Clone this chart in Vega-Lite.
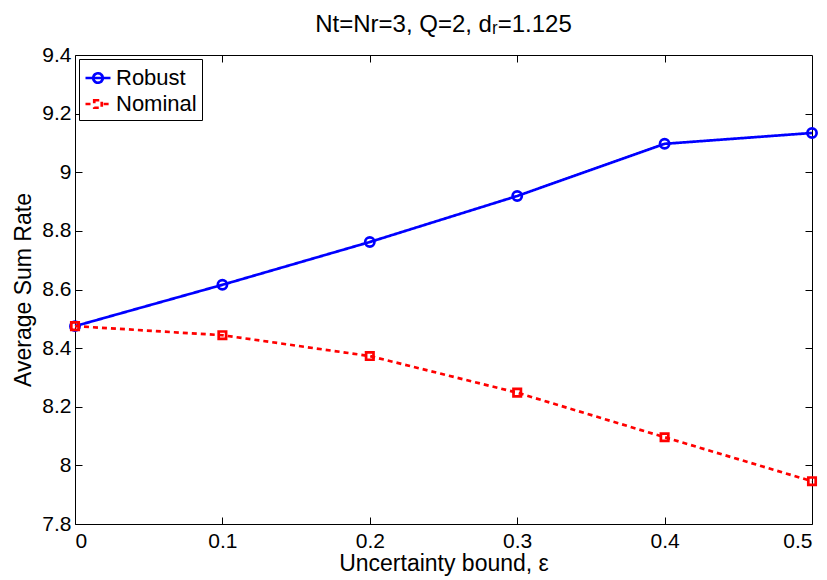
{
  "$schema": "https://vega.github.io/schema/vega-lite/v6.json",
  "width": 737,
  "height": 469,
  "autosize": "none",
  "padding": {"left": 75, "top": 55, "right": 15, "bottom": 56},
  "background": "white",
  "title": {"text": "Nt=Nr=3, Q=2, dᵣ=1.125", "fontSize": 24, "fontWeight": "normal", "font": "Liberation Sans", "color": "black", "offset": 7},
  "config": {
    "view": {"stroke": "black", "strokeWidth": 1},
    "axis": {"grid": false, "domain": false, "tickColor": "black", "tickSize": -7, "tickWidth": 1, "labelFont": "Liberation Sans", "labelFontSize": 21, "labelColor": "black", "titleFont": "Liberation Sans", "titleFontSize": 23, "titleFontWeight": "normal", "titleColor": "black"},
    "legend": {"labelFont": "Liberation Sans", "labelFontSize": 22, "labelColor": "black"}
  },
  "data": {"values": [
    {"eps": 0, "rate": 8.475, "series": "Robust"},
    {"eps": 0.1, "rate": 8.616, "series": "Robust"},
    {"eps": 0.2, "rate": 8.762, "series": "Robust"},
    {"eps": 0.3, "rate": 8.919, "series": "Robust"},
    {"eps": 0.4, "rate": 9.097, "series": "Robust"},
    {"eps": 0.5, "rate": 9.134, "series": "Robust"},
    {"eps": 0, "rate": 8.475, "series": "Nominal"},
    {"eps": 0.1, "rate": 8.444, "series": "Nominal"},
    {"eps": 0.2, "rate": 8.373, "series": "Nominal"},
    {"eps": 0.3, "rate": 8.248, "series": "Nominal"},
    {"eps": 0.4, "rate": 8.096, "series": "Nominal"},
    {"eps": 0.5, "rate": 7.946, "series": "Nominal"}
  ]},
  "layer": [
    {
      "mark": {"type": "line", "strokeWidth": 2.7},
      "encoding": {
        "x": {"field": "eps", "type": "quantitative", "scale": {"domain": [0, 0.5], "nice": false, "zero": false},
              "axis": {"orient": "bottom", "values": [0, 0.1, 0.2, 0.3, 0.4, 0.5], "format": ".1~f", "labelPadding": 13, "title": "Uncertainty bound, ε", "titlePadding": 1}},
        "y": {"field": "rate", "type": "quantitative", "scale": {"domain": [7.8, 9.4], "nice": false, "zero": false},
              "axis": {"orient": "left", "values": [7.8, 8, 8.2, 8.4, 8.6, 8.8, 9, 9.2, 9.4], "format": ".1~f", "labelPadding": 11, "title": "Average Sum Rate", "titlePadding": 6}},
        "color": {"field": "series", "type": "nominal", "scale": {"domain": ["Robust", "Nominal"], "range": ["#0000ff", "#ff0000"]},
                  "legend": {"title": null, "orient": "top-left", "offset": 4, "padding": 5, "strokeColor": "black", "fillColor": "white", "rowPadding": 1, "labelOffset": 4, "symbolSize": 625, "symbolStrokeWidth": 2.7,
                    "encode": {"symbols": {"update": {
                      "shape": {"signal": "datum.value === 'Robust' ? 'M-1,0H1M-0.38,0A0.38,0.38,0,1,1,0.38,0A0.38,0.38,0,1,1,-0.38,0' : 'M-1,0H-0.45M0.45,0H1M-0.3,-0.3H0.3V0.3H-0.3Z'"},
                      "strokeDash": {"signal": "datum.value === 'Robust' ? [] : [4, 3]"},
                      "fill": {"value": "transparent"},
                      "strokeWidth": {"value": 2.7},
                      "size": {"value": 625}
                    }}}}},
        "strokeDash": {"field": "series", "type": "nominal", "scale": {"domain": ["Robust", "Nominal"], "range": [[1, 0], [5, 4]]}, "legend": null}
      }
    },
    {
      "transform": [{"filter": "datum.series === 'Robust'"}],
      "mark": {"type": "point", "shape": "circle", "filled": false, "strokeWidth": 2.7, "size": 85, "color": "#0000ff", "opacity": 1},
      "encoding": {
        "x": {"field": "eps", "type": "quantitative", "axis": null},
        "y": {"field": "rate", "type": "quantitative", "axis": null}
      }
    },
    {
      "transform": [{"filter": "datum.series === 'Nominal'"}],
      "mark": {"type": "point", "shape": "square", "filled": false, "strokeWidth": 2.7, "size": 55, "color": "#ff0000", "opacity": 1},
      "encoding": {
        "x": {"field": "eps", "type": "quantitative", "axis": null},
        "y": {"field": "rate", "type": "quantitative", "axis": null}
      }
    },
    {
      "mark": {"type": "point", "opacity": 0},
      "encoding": {
        "x": {"field": "eps", "type": "quantitative", "axis": {"orient": "top", "values": [0.1, 0.2, 0.3, 0.4], "labels": false, "title": null}},
        "y": {"field": "rate", "type": "quantitative", "axis": {"orient": "right", "values": [8, 8.2, 8.4, 8.6, 8.8, 9, 9.2], "labels": false, "title": null}}
      }
    }
  ],
  "resolve": {"axis": {"x": "independent", "y": "independent"}}
}
